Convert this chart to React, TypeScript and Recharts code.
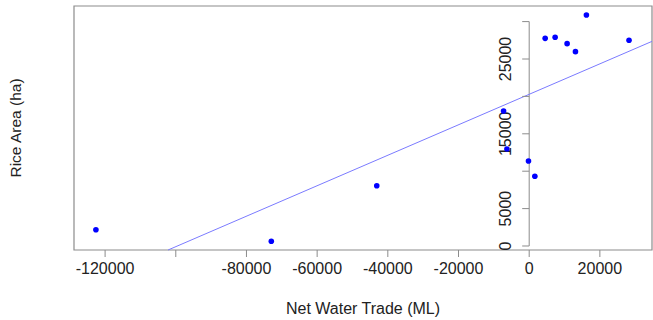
import React from "react";
import {
  ScatterChart,
  Scatter,
  XAxis,
  YAxis,
  ReferenceLine,
  ReferenceArea,
} from "recharts";

// Net water trade (ML) vs rice area (ha)
const netWaterTrade = [-122600, -72970, -43130, -7250, -6300, -200, 1600, 4520, 7340, 10730, 13090, 16190, 28250];
const riceArea = [2180, 630, 8060, 18050, 12970, 11360, 9320, 27760, 27900, 27050, 25980, 30880, 27500];

const xTicks = [-120000, -100000, -80000, -60000, -40000, -20000, 0, 20000];
const xTickLabels = ["-120000", "", "-80000", "-60000", "-40000", "-20000", "0", "20000"];
const yTicks = [0, 5000, 10000, 15000, 20000, 25000, 30000];
const yTickLabels = ["0", "5000", "", "15000", "", "25000", ""];

const xDomain = [-128800, 34750];
const yDomain = [-535, 32086];

// fitted line
const intercept = 20280;
const slope = 0.2037;

const points = netWaterTrade.map((x, i) => ({ x, y: riceArea[i] }));
const yTickData = yTicks.map((y, i) => ({ x: 0, y, label: yTickLabels[i] }));

const lineStartX = (yDomain[0] - intercept) / slope;
const lineEndX = xDomain[1];

const FONT = "'Liberation Sans', Arial, sans-serif";
const GREY = "#8c8c8c";
const TEXT = "#222";

const Dot = (props: any) => {
  const { cx, cy } = props;
  return <circle cx={cx} cy={cy} r={2.8} fill="#0000ff" />;
};

const YTick = (props: any) => {
  const { cx, cy, payload } = props;
  return (
    <g>
      <line x1={cx - 7} y1={cy} x2={cx} y2={cy} stroke={GREY} strokeWidth={1} />
      {payload.label ? (
        <text
          x={cx - 24}
          y={cy}
          transform={`rotate(-90 ${cx - 24} ${cy})`}
          textAnchor="middle"
          dominantBaseline="central"
          fontSize={16}
          fill={TEXT}
          fontFamily={FONT}
        >
          {payload.label}
        </text>
      ) : null}
    </g>
  );
};

export default function App() {
  return (
    <div style={{ position: "absolute", left: 0, top: 0, background: "#fff" }}>
      <ScatterChart
        width={653}
        height={320}
        margin={{ top: 6, right: 1, bottom: 0, left: 0 }}
        style={{ fontFamily: FONT }}
      >
        <XAxis
          type="number"
          dataKey="x"
          domain={xDomain}
          ticks={xTicks}
          tickFormatter={(v: number) => xTickLabels[xTicks.indexOf(v)] ?? ""}
          axisLine={false}
          tickLine={{ stroke: GREY }}
          tickSize={7}
          tickMargin={6}
          tick={{ fontSize: 16, fill: TEXT, fontFamily: FONT }}
          height={70}
          interval={0}
          allowDataOverflow
          label={{
            value: "Net Water Trade (ML)",
            position: "insideBottom",
            offset: 6,
            style: { fontSize: 16, fill: TEXT, fontFamily: FONT },
          }}
        />
        <YAxis
          type="number"
          dataKey="y"
          domain={yDomain}
          tick={false}
          axisLine={false}
          tickLine={false}
          width={74}
          allowDataOverflow
          label={{
            value: "Rice Area (ha)",
            angle: -90,
            position: "insideLeft",
            offset: 15,
            style: { textAnchor: "middle", fontSize: 15.5, fill: TEXT, fontFamily: FONT },
          }}
        />
        <ReferenceArea
          x1={xDomain[0]}
          x2={xDomain[1]}
          y1={yDomain[0]}
          y2={yDomain[1]}
          fill="none"
          stroke={GREY}
          strokeWidth={1.2}
          ifOverflow="visible"
        />
        <ReferenceLine
          segment={[
            { x: 0, y: yTicks[0] },
            { x: 0, y: yTicks[yTicks.length - 1] },
          ]}
          stroke={GREY}
          strokeWidth={1}
          ifOverflow="visible"
        />
        <Scatter data={yTickData} shape={YTick} isAnimationActive={false} />
        <ReferenceLine
          segment={[
            { x: lineStartX, y: yDomain[0] },
            { x: lineEndX, y: intercept + slope * lineEndX },
          ]}
          stroke="#7b7bff"
          strokeWidth={1}
          ifOverflow="visible"
        />
        <Scatter data={points} shape={Dot} isAnimationActive={false} />
      </ScatterChart>
    </div>
  );
}
